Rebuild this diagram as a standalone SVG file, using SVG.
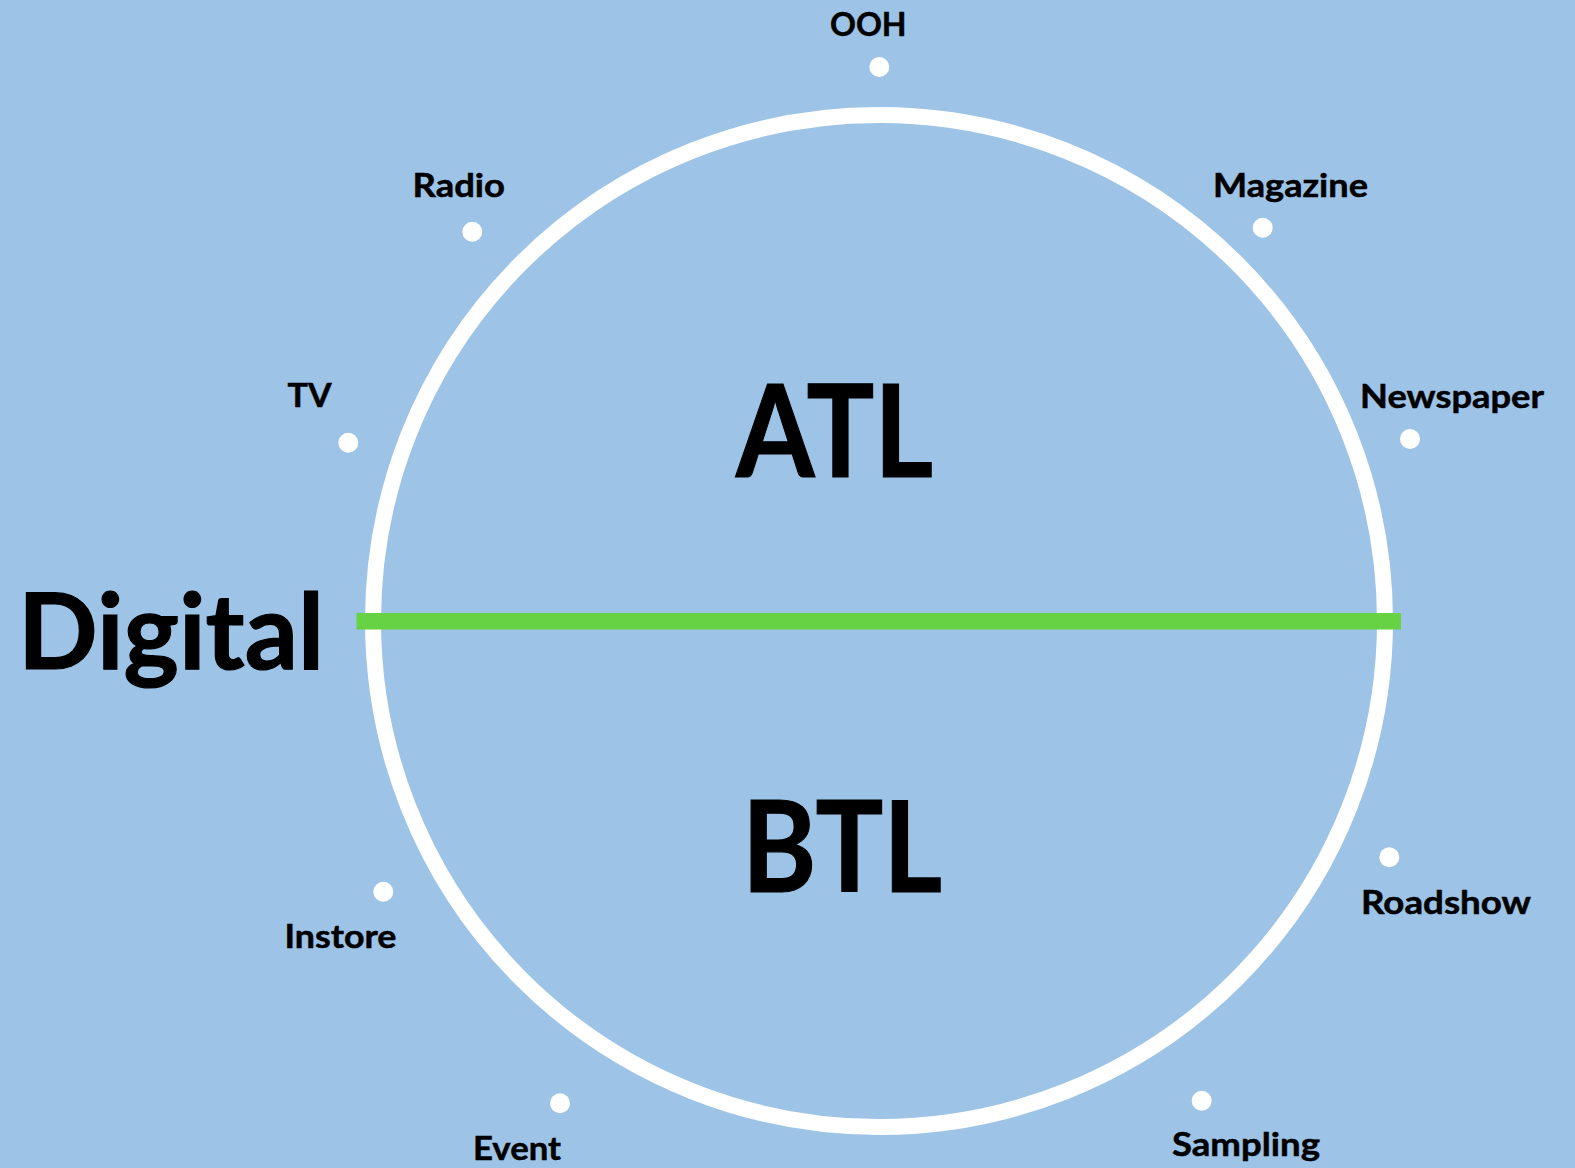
<svg xmlns="http://www.w3.org/2000/svg" width="1575" height="1168" viewBox="0 0 1575 1168">
<style>
.lbl{font-family:Lato,"Open Sans","Liberation Sans",sans-serif;font-weight:bold;font-size:33px;fill:#000;stroke:#000;stroke-width:0.5px}
.big{font-family:Lato,"Open Sans","Liberation Sans",sans-serif;font-weight:bold;fill:#000;stroke:#000;stroke-width:1.2px}
.dot{fill:#fff}
</style>
<rect x="0" y="0" width="1575" height="1168" fill="#9DC3E6"/>
<g id="ring">
<circle cx="879" cy="621" r="506" fill="none" stroke="#fff" stroke-width="16"/>
</g>
<g id="connectors">
<line x1="356.5" y1="621.2" x2="1401" y2="621.2" stroke="#66D244" stroke-width="16.5"/>
</g>
<g id="atl"><text class="big" x="736" y="477" font-size="128" textLength="197" lengthAdjust="spacingAndGlyphs">ATL</text></g>
<g id="btl"><text class="big" x="742" y="892" font-size="126" textLength="200" lengthAdjust="spacingAndGlyphs">BTL</text></g>
<g id="digital"><text class="big" x="18" y="669.3" font-size="106" textLength="306" lengthAdjust="spacingAndGlyphs">Digital</text></g>
<g id="ooh"><circle class="dot" cx="879.3" cy="67" r="10"/><text class="lbl" x="830" y="36" textLength="76.5" lengthAdjust="spacingAndGlyphs">OOH</text></g>
<g id="radio"><circle class="dot" cx="472.3" cy="231.7" r="10"/><text class="lbl" x="412.5" y="197.3" textLength="92.5" lengthAdjust="spacingAndGlyphs">Radio</text></g>
<g id="magazine"><circle class="dot" cx="1262.7" cy="227.7" r="10"/><text class="lbl" x="1213" y="196.7" textLength="155" lengthAdjust="spacingAndGlyphs">Magazine</text></g>
<g id="tv"><circle class="dot" cx="348.3" cy="442.7" r="10"/><text class="lbl" x="287.5" y="406.7" textLength="44" lengthAdjust="spacingAndGlyphs">TV</text></g>
<g id="newspaper"><circle class="dot" cx="1410" cy="439" r="10"/><text class="lbl" x="1360" y="407.7" textLength="184" lengthAdjust="spacingAndGlyphs">Newspaper</text></g>
<g id="roadshow"><circle class="dot" cx="1389.3" cy="857.3" r="10"/><text class="lbl" x="1361" y="914.3" textLength="170" lengthAdjust="spacingAndGlyphs">Roadshow</text></g>
<g id="instore"><circle class="dot" cx="383.3" cy="891.7" r="10"/><text class="lbl" x="284.5" y="948.3" textLength="112" lengthAdjust="spacingAndGlyphs">Instore</text></g>
<g id="event"><circle class="dot" cx="560" cy="1103.3" r="10"/><text class="lbl" x="473" y="1160" textLength="88" lengthAdjust="spacingAndGlyphs">Event</text></g>
<g id="sampling"><circle class="dot" cx="1201.7" cy="1100.7" r="10"/><text class="lbl" x="1172" y="1156" textLength="148" lengthAdjust="spacingAndGlyphs">Sampling</text></g>
</svg>
